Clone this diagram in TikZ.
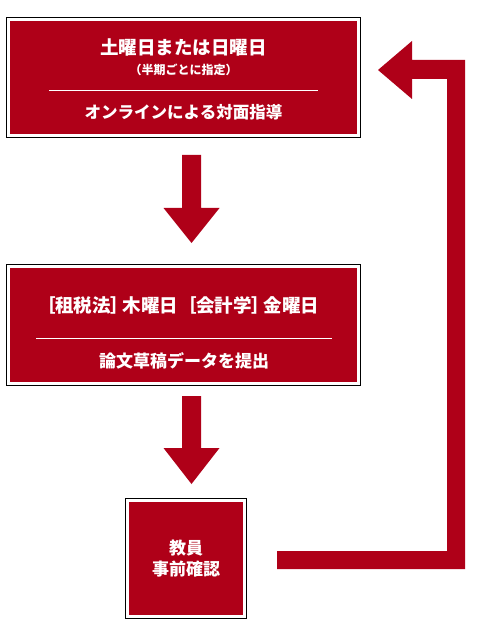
\documentclass[tikz,border=0pt]{standalone}
\usepackage{fontspec}
\setmainfont{Noto Sans CJK JP}
\newfontfamily\paltfont{Noto Sans CJK JP}[RawFeature=+palt]
\usetikzlibrary{calc,fit}
\definecolor{brandred}{RGB}{175,0,24}
\tikzset{
  redbox/.style={fill=brandred, inner sep=0pt, outer sep=0pt},
  frame/.style={draw=black, line width=1pt, inner sep=3.5pt},
  txt/.style={text=white, inner sep=0pt, anchor=base, font=\bfseries\fontsize{#1}{#1}\selectfont},
  sepline/.style={draw=white, line width=1pt},
  blockarrow/.style={fill=brandred, draw=none},
}
\begin{document}
\begin{tikzpicture}[x=1pt,y=-1pt]
\useasboundingbox (0,0) rectangle (500,628);
% boxes
\node[redbox, minimum width=347pt, minimum height=113pt] (top) at (183.5,77.5) {};
\node[frame, fit=(top)] (topframe) {};
\node[redbox, minimum width=347pt, minimum height=114pt] (mid) at (183.5,325) {};
\node[frame, fit=(mid)] (midframe) {};
\node[redbox, minimum width=114pt, minimum height=113pt] (bot) at (186,558.5) {};
\node[frame, fit=(bot)] (botframe) {};
% top texts
\node[txt=18.5] (t1) at ($(top.north)+(0,34)$) {土曜日または日曜日};
\node[txt=12] (t2) at ($(top.north)+(0,53.8)$) {（半期ごとに指定）};
\draw[sepline] ($(top.north)+(-134.5,70)$) -- ++(269,0);
\node[txt=16.5] (t3) at ($(top.north)+(0,97.8)$) {オンラインによる対面指導};
% middle texts
\node[txt=18.5] (m1) at ($(mid.north)+(-1,44)$) {\paltfont\bfseries ［租税法］\hspace{2.5pt}木曜日\hspace{9pt}［会計学］\hspace{2.5pt}金曜日};
\draw[sepline] ($(mid.north)+(-147.5,70)$) -- ++(296,0);
\node[txt=17] (m2) at ($(mid.north)+(0.5,99)$) {論文草稿データを提出};
% bottom texts
\node[txt=17] (b1) at ($(bot.north)+(0,52)$) {教員};
\node[txt=17] (b2) at ($(bot.north)+(0,73.5)$) {事前確認};
% down arrows
\coordinate (a1) at ($(top.south)+(8,21)$);
\fill[blockarrow] (a1) ++(-9.5,0) -- ++(19,0) -- ++(0,53) -- ++(18.5,0) -- ++(-28,35) -- ++(-28,-35) -- ++(18.5,0) -- cycle;
\coordinate (a2) at ($(mid.south)+(8,14)$);
\fill[blockarrow] (a2) ++(-9.5,0) -- ++(19,0) -- ++(0,52) -- ++(18.5,0) -- ++(-28,36) -- ++(-28,-36) -- ++(18.5,0) -- cycle;
% return arrow
\coordinate (r1) at ($(bot.east)+(34,-7.5)$);
\fill[blockarrow] (r1) -- ++(170,0) -- ++(0,-472) -- ++(-35,0) -- ++(0,20) -- ++(-34,-29) -- ++(34,-29) -- ++(0,19) -- ++(53,0) -- ++(0,509) -- ++(-188,0) -- cycle;
\end{tikzpicture}
\end{document}
